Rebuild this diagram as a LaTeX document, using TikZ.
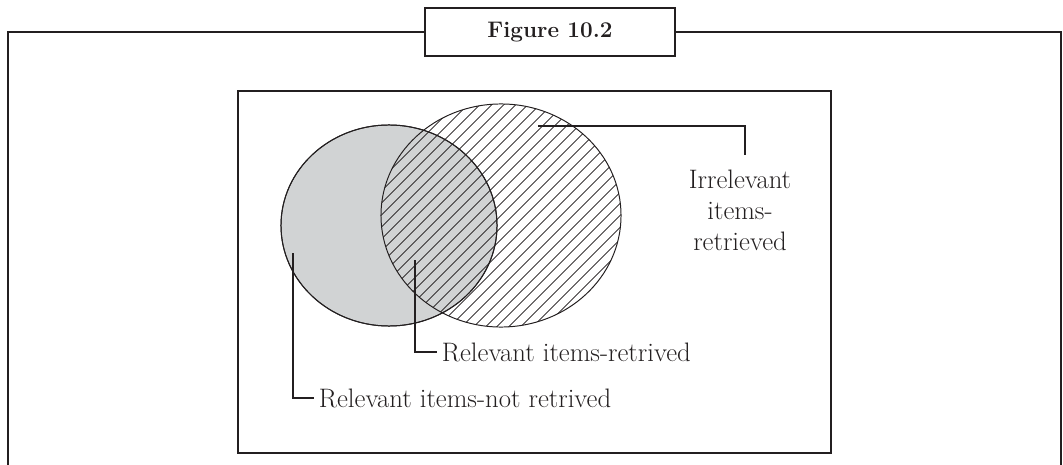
\documentclass[tikz,border=0pt]{standalone}
\usepackage{tikz}
\usepackage{xcolor}
\usetikzlibrary{shapes.geometric,patterns.meta}

\definecolor{ink}{RGB}{35,31,32}
\definecolor{setgray}{RGB}{209,211,212}

\tikzset{
	frameline/.style={draw=ink,line width=1.5pt},
	setshape/.style={ellipse,draw=ink,line width=0.7pt,inner sep=0pt},
	leader/.style={draw=ink,line width=0.8pt},
	lbl/.style={text=ink,font=\fontsize{19}{22}\selectfont,align=center},
}

\begin{document}
\begin{tikzpicture}[x=0.025cm,y=-0.025cm]
\useasboundingbox (0,0) rectangle (1063,465);

% outer frame with title
\node[frameline,fill=white,minimum width=6.25cm,minimum height=1.2cm,
	text=ink,font=\bfseries\fontsize{16}{18}\selectfont] (title) at (550,32) {Figure 10.2};
\coordinate (fbl) at (8,470);
\coordinate (fbr) at (1061,470);
\draw[frameline] (fbl) |- (title.west);
\draw[frameline] (fbr) |- (title.east);

% inner frame
\draw[draw=ink,line width=1pt] (238,91) rectangle (831,453);

% the two sets
\node[setshape,fill=setgray,minimum width=5.4cm,minimum height=5.025cm] (relevant) at (389,225.5) {};
\node[setshape,pattern={Lines[angle=45,distance=6.5pt,line width=0.6pt]},pattern color=ink,
	minimum width=6cm,minimum height=5.575cm] (retrieved) at (501,215.5) {};
\draw[draw=ink,line width=0.7pt] (relevant.center) ellipse [x radius=2.7cm,y radius=2.5125cm];

% labels
\node[lbl,anchor=north] (irrtxt) at (740,165) {Irrelevant\\items-\\retrieved};
\node[lbl,anchor=west] (rettxt) at (437,352) {Relevant items-retrived};
\node[lbl,anchor=west] (nottxt) at (314,398) {Relevant items-not retrived};

\coordinate (irrpt) at (538,126);
\coordinate (irrend) at (745,155);
\coordinate (retpt) at (415,260);
\coordinate (notpt) at (293,253);

\draw[leader] (irrpt) -| (irrend);
\draw[leader] (retpt) |- (rettxt.west);
\draw[leader] (notpt) |- (nottxt.west);
\end{tikzpicture}
\end{document}
